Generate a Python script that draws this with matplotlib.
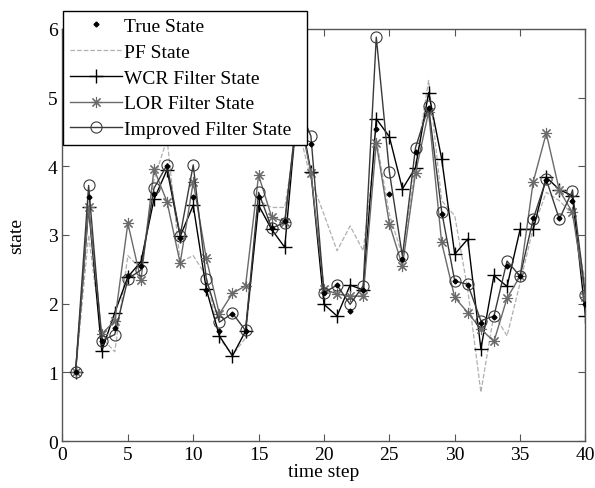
import matplotlib.pyplot as plt
import numpy as np

plt.rcParams["font.family"] = ["Liberation Serif", "DejaVu Serif"]

steps = np.arange(1, 41)

true_state = [1.0, 3.55, 1.45, 1.65, 2.40, 2.55, 3.60, 4.00, 2.95, 3.55,
              2.20, 1.60, 1.85, 1.60, 3.55, 3.10, 3.20, 4.90, 4.32, 2.15,
              2.27, 1.89, 2.20, 4.54, 3.60, 2.65, 4.20, 4.85, 3.30, 2.33,
              2.27, 1.72, 1.80, 2.55, 2.40, 3.25, 3.80, 3.25, 3.50, 2.00]
pf_state = [1.0, 3.00, 1.50, 1.30, 2.70, 2.50, 3.80, 4.40, 2.60, 2.70,
            2.40, 1.50, 1.25, 1.50, 3.50, 3.40, 3.40, 4.60, 3.80, 3.30,
            2.77, 3.13, 2.77, 4.40, 3.30, 2.70, 4.00, 5.25, 3.50, 3.28,
            2.20, 0.71, 1.85, 1.53, 2.30, 3.10, 3.62, 3.50, 3.30, 2.30]
wcr_state = [1.0, 3.40, 1.31, 1.87, 2.39, 2.61, 3.52, 3.95, 2.98, 3.43,
             2.21, 1.53, 1.24, 1.60, 3.43, 3.08, 2.82, 4.95, 3.92, 1.99,
             1.82, 2.27, 2.20, 4.69, 4.43, 3.67, 3.98, 5.07, 4.11, 2.72,
             2.94, 1.34, 2.41, 2.25, 3.08, 3.08, 3.84, 3.66, 3.57, 1.82]
lor_state = [1.0, 3.40, 1.56, 1.75, 3.17, 2.34, 3.96, 3.48, 2.59, 3.77,
             2.66, 1.85, 2.15, 2.26, 3.87, 3.26, 3.19, 4.85, 3.90, 2.21,
             2.14, 2.11, 2.11, 4.34, 3.16, 2.55, 3.90, 4.79, 2.89, 2.09,
             1.87, 1.63, 1.45, 2.08, 2.40, 3.77, 4.48, 3.65, 3.33, 2.10]
improved_state = [1.0, 3.72, 1.46, 1.55, 2.36, 2.49, 3.68, 4.02, 2.99, 4.02,
                  2.36, 1.73, 1.86, 1.61, 3.62, 3.10, 3.18, 4.90, 4.44, 2.16,
                  2.27, 1.99, 2.26, 5.88, 3.92, 2.69, 4.27, 4.87, 3.34, 2.33,
                  2.28, 1.75, 1.82, 2.62, 2.40, 3.23, 3.81, 3.23, 3.64, 2.12]

fig = plt.figure(figsize=(5.95, 4.89), dpi=100)
ax = fig.add_axes([0.105, 0.096, 0.879, 0.843])

ax.plot(steps, true_state, linestyle="none", marker="D", markersize=2.5,
        color="black", label="True State", zorder=5)
ax.plot(steps, pf_state, linestyle="--", color="#b0b0b0", linewidth=0.9,
        label="PF State")
ax.plot(steps, wcr_state, color="black", linewidth=1.0, marker="+",
        markersize=10, markeredgewidth=1.0, label="WCR Filter State")
ax.plot(steps, lor_state, color="#6a6a6a", linewidth=1.0, marker=(8, 2, 0),
        markersize=8, markeredgewidth=0.8, label="LOR Filter State")
ax.plot(steps, improved_state, color="#3a3a3a", linewidth=1.0, marker="o",
        markersize=8, markerfacecolor="none", markeredgewidth=0.8,
        label="Improved Filter State")

ax.set_xlim(0, 40)
ax.set_ylim(0, 6)
ax.set_xticks(np.arange(0, 41, 5))
ax.set_yticks(np.arange(0, 7, 1))
ax.tick_params(direction="in", top=True, right=True, labelsize=14,
               length=5, color="#555555")
for spine in ax.spines.values():
    spine.set_color("#555555")
    spine.set_linewidth(1.0)
ax.set_xlabel("time step", fontsize=14, labelpad=0)
ax.set_ylabel("state", fontsize=14, labelpad=16)

# legend box pokes out above the axes, like the original
leg = ax.legend(loc="upper left", bbox_to_anchor=(0.106, 0.70, 0.41, 0.276),
                bbox_transform=fig.transFigure, mode="expand", fontsize=14,
                fancybox=False, framealpha=1, edgecolor="black",
                borderpad=0.35, labelspacing=0.42, handlelength=2.7,
                handletextpad=0.1, borderaxespad=0)
leg.get_frame().set_linewidth(1.0)
leg.set_zorder(10)

fig.savefig("out.png", dpi=100)
